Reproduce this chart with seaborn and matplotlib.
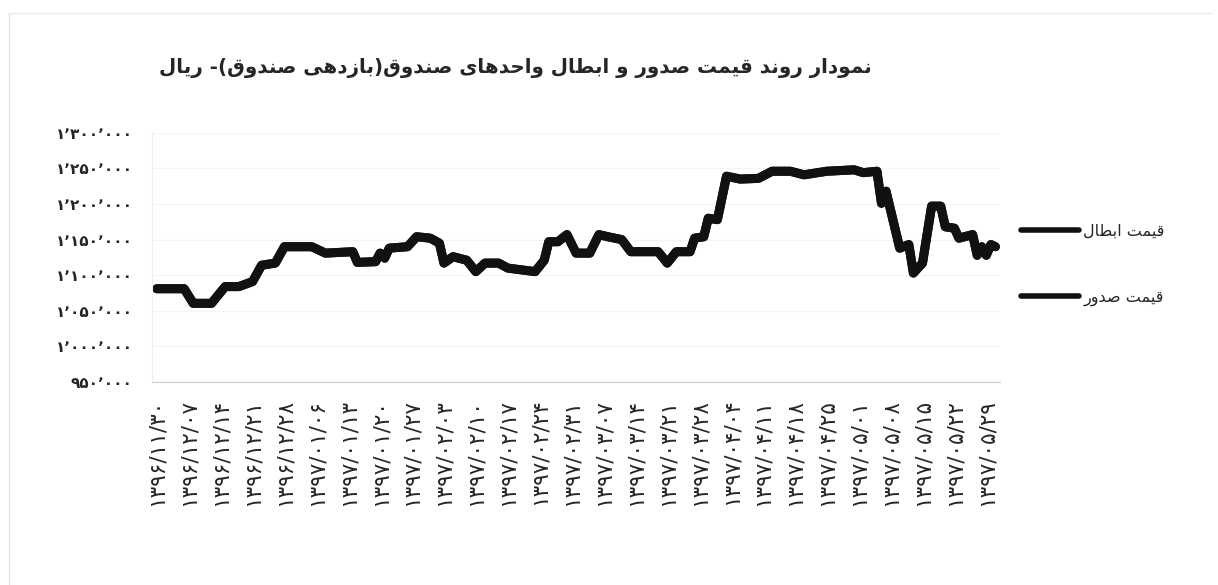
import matplotlib
matplotlib.use("Agg")
import matplotlib.pyplot as plt
from matplotlib.lines import Line2D
from matplotlib.ticker import FuncFormatter
import seaborn as sns
import pandas as pd

sns.set_style("white")
plt.rcParams['font.family'] = ['DejaVu Sans']

TITLE = "نمودار روند قیمت صدور و ابطال واحدهای صندوق(بازدهی صندوق)- ریال"
SERIES_NAMES = ["قیمت ابطال", "قیمت صدور"]

# day index since 1396/11/30 and price (rial)
DAYS = [0, 6, 8, 12, 15, 18, 21, 23, 26, 28, 34, 37, 43, 44, 48, 49, 50, 51, 55, 57,
        60, 62, 63, 65, 68, 70, 72, 75, 77, 83, 85, 86, 88, 90, 92, 95, 97, 99, 102, 104,
        110, 112, 114, 117, 118, 120, 121, 123, 125, 128, 132, 135, 139, 142, 147, 153,
        155, 158, 159, 160, 163, 165, 166, 168, 170, 172, 173, 175, 176, 179, 180, 181,
        182, 183, 184]
REDEMPTION = [1081000, 1081000, 1060500, 1060500, 1084000, 1084000, 1091000, 1114000,
              1117000, 1140000, 1140000, 1131000, 1133000, 1118000, 1119000, 1131000,
              1124000, 1138000, 1140000, 1154000, 1152000, 1145000, 1117000, 1126000,
              1121000, 1105000, 1117000, 1117000, 1110000, 1105000, 1121000, 1147000,
              1147000, 1157000, 1131000, 1131000, 1157000, 1154000, 1150000, 1133000,
              1133000, 1117000, 1133000, 1133000, 1152000, 1154000, 1180000, 1178000,
              1239000, 1235000, 1236000, 1246000, 1246000, 1241000, 1246000, 1248000,
              1244000, 1246000, 1201000, 1218000, 1138000, 1143000, 1103000, 1117000,
              1197000, 1197000, 1168000, 1166000, 1152000, 1157000, 1128000, 1140000,
              1128000, 1143000, 1140000]
# issue price runs on top of the redemption price
ISSUE = list(REDEMPTION)

X_TICK_LABELS = ["۱۳۹۶/۱۱/۳۰", "۱۳۹۶/۱۲/۰۷", "۱۳۹۶/۱۲/۱۴", "۱۳۹۶/۱۲/۲۱", "۱۳۹۶/۱۲/۲۸",
                 "۱۳۹۷/۰۱/۰۶", "۱۳۹۷/۰۱/۱۳", "۱۳۹۷/۰۱/۲۰", "۱۳۹۷/۰۱/۲۷", "۱۳۹۷/۰۲/۰۳",
                 "۱۳۹۷/۰۲/۱۰", "۱۳۹۷/۰۲/۱۷", "۱۳۹۷/۰۲/۲۴", "۱۳۹۷/۰۲/۳۱", "۱۳۹۷/۰۳/۰۷",
                 "۱۳۹۷/۰۳/۱۴", "۱۳۹۷/۰۳/۲۱", "۱۳۹۷/۰۳/۲۸", "۱۳۹۷/۰۴/۰۴", "۱۳۹۷/۰۴/۱۱",
                 "۱۳۹۷/۰۴/۱۸", "۱۳۹۷/۰۴/۲۵", "۱۳۹۷/۰۵/۰۱", "۱۳۹۷/۰۵/۰۸", "۱۳۹۷/۰۵/۱۵",
                 "۱۳۹۷/۰۵/۲۲", "۱۳۹۷/۰۵/۲۹"]
Y_TICKS = [950000, 1000000, 1050000, 1100000, 1150000, 1200000, 1250000, 1300000]

# minimal arabic shaping: (isolated, final, initial, medial)
FORMS = {
    'ا': (0xFE8D, 0xFE8E, None, None), 'د': (0xFEA9, 0xFEAA, None, None),
    'ر': (0xFEAD, 0xFEAE, None, None), 'ز': (0xFEAF, 0xFEB0, None, None),
    'و': (0xFEED, 0xFEEE, None, None),
    'ب': (0xFE8F, 0xFE90, 0xFE91, 0xFE92), 'ت': (0xFE95, 0xFE96, 0xFE97, 0xFE98),
    'ح': (0xFEA1, 0xFEA2, 0xFEA3, 0xFEA4), 'ص': (0xFEB9, 0xFEBA, 0xFEBB, 0xFEBC),
    'ط': (0xFEC1, 0xFEC2, 0xFEC3, 0xFEC4), 'ق': (0xFED5, 0xFED6, 0xFED7, 0xFED8),
    'ل': (0xFEDD, 0xFEDE, 0xFEDF, 0xFEE0), 'م': (0xFEE1, 0xFEE2, 0xFEE3, 0xFEE4),
    'ن': (0xFEE5, 0xFEE6, 0xFEE7, 0xFEE8), 'ه': (0xFEE9, 0xFEEA, 0xFEEB, 0xFEEC),
    'ی': (0xFEEF, 0xFEF0, 0xFEF3, 0xFEF4),
}


def shape(text):
    out = []
    for i, ch in enumerate(text):
        if ch not in FORMS:
            out.append(ch)
            continue
        prev = text[i - 1] if i > 0 else ''
        nxt = text[i + 1] if i + 1 < len(text) else ''
        f = FORMS[ch]
        join_prev = prev in FORMS and FORMS[prev][2] is not None
        join_next = f[2] is not None and nxt in FORMS
        if join_prev and join_next:
            g = f[3]
        elif join_prev:
            g = f[1]
        elif join_next:
            g = f[2]
        else:
            g = f[0]
        out.append(chr(g))
    return ''.join(reversed(out)).translate(str.maketrans('()', ')('))


def fa_number(v, pos=None):
    s = f"{int(v):,}".replace(',', '٬')
    return s.translate(str.maketrans('0123456789', '۰۱۲۳۴۵۶۷۸۹'))


df = pd.concat([
    pd.DataFrame({'day': DAYS, 'price': REDEMPTION, 'series': shape(SERIES_NAMES[0])}),
    pd.DataFrame({'day': DAYS, 'price': ISSUE, 'series': shape(SERIES_NAMES[1])}),
])

fig = plt.figure(figsize=(12.18, 5.85), dpi=100)
ax = fig.add_axes([0.125, 0.347, 0.696, 0.426])
sns.lineplot(data=df, x='day', y='price', hue='series', palette=['#111111', '#111111'],
             estimator=None, linewidth=6.5, ax=ax, legend=True)
for line in ax.lines:
    line.set_solid_joinstyle('round')
    line.set_solid_capstyle('round')

ax.set_xlim(-1, 185)
ax.set_ylim(Y_TICKS[0], Y_TICKS[-1])
ax.set_yticks(Y_TICKS)
ax.yaxis.set_major_formatter(FuncFormatter(fa_number))
ax.set_xticks([7 * i for i in range(len(X_TICK_LABELS))])
ax.set_xticklabels(X_TICK_LABELS, rotation=90, fontsize=15.5)
ax.tick_params(axis='y', labelsize=11, length=0, pad=14)
ax.tick_params(axis='x', length=0, pad=12)
for lbl in ax.get_yticklabels():
    lbl.set_fontweight('bold')
ax.set_xlabel('')
ax.set_ylabel('')
ax.grid(axis='y', color='#f3f3f3', linewidth=0.8)
for side in ['top', 'right']:
    ax.spines[side].set_visible(False)
ax.spines['left'].set_color('#eeeeee')
ax.spines['bottom'].set_color('#cccccc')
ax.spines['bottom'].set_linestyle((0, (2, 1)))

leg = ax.legend(loc='center left', bbox_to_anchor=(1.008, 0.47), frameon=False,
                fontsize=11.5, handlelength=3.6, handletextpad=0.3, labelspacing=3.2)
for h in leg.get_lines():
    h.set_linewidth(4)

fig.text(0.423, 0.884, shape(TITLE), ha='center', va='center', fontsize=14.3,
         fontweight='bold')

# faint scan frame on left and top
fig.add_artist(Line2D([0.007, 0.007], [0.0, 0.978], color='#e2e2e2', linewidth=1))
fig.add_artist(Line2D([0.007, 0.995], [0.978, 0.978], color='#ececec', linewidth=1))

fig.savefig('out.png', dpi=100)
